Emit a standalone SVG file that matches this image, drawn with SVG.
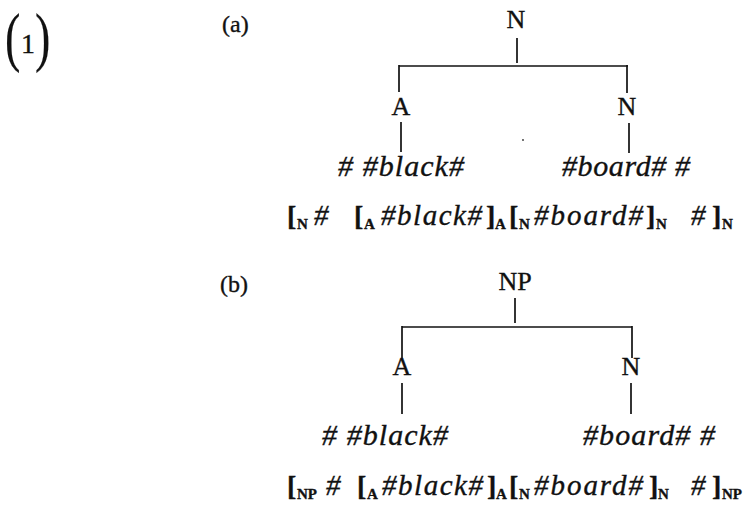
<svg xmlns="http://www.w3.org/2000/svg" width="753" height="506" viewBox="0 0 753 506">
<style>
text{font-family:"Liberation Serif","Times New Roman",serif;fill:#111;stroke:#111;stroke-width:0.35}
.lab{font-size:26px;text-anchor:middle}
.leaf{font-size:30px;font-style:italic}
.br{font-size:28px;font-weight:bold}
.sub{font-size:15px;font-weight:bold}
.it{font-size:29px;font-style:italic}
.tag{font-size:24px}
.conn line{stroke:#111;stroke-width:1.7}
</style>
<rect width="753" height="506" fill="#fff"/>
<g id="example-number">
<text transform="translate(5,59) scale(0.7,1)" style="font-size:66px;stroke-width:0.2">(</text>
<text x="21" y="53" style="font-size:28px">1</text>
<text transform="translate(35,59) scale(0.7,1)" style="font-size:66px;stroke-width:0.2">)</text>
</g>
<text class="tag" x="222" y="32">(a)</text>
<text class="tag" x="220" y="292">(b)</text>
<g class="conn" id="connectors">
<line x1="517" y1="38" x2="517" y2="63"/>
<line x1="399" y1="66" x2="628" y2="66"/>
<line x1="399" y1="65" x2="399" y2="92"/>
<line x1="627" y1="65" x2="627" y2="93"/>
<line x1="401" y1="122" x2="401" y2="152"/>
<line x1="629" y1="123" x2="629" y2="153"/>
<line x1="515" y1="298" x2="515" y2="323"/>
<line x1="402" y1="327" x2="632" y2="327"/>
<line x1="402" y1="326" x2="402" y2="358"/>
<line x1="632" y1="326" x2="632" y2="358"/>
<line x1="402" y1="383" x2="402" y2="414"/>
<line x1="631" y1="383" x2="631" y2="414"/>
</g>
<circle cx="523" cy="140" r="0.9" fill="#333"/>
<g id="a-root"><text class="lab" x="516" y="28">N</text></g>
<g id="a-A"><text class="lab" x="401" y="115">A</text></g>
<g id="a-N"><text class="lab" x="627" y="115">N</text></g>
<g id="a-leaf-black"><text class="leaf" x="338" y="176" textLength="126" lengthAdjust="spacing"># #black#</text></g>
<g id="a-leaf-board"><text class="leaf" x="562" y="176" textLength="128" lengthAdjust="spacing">#board# #</text></g>
<g id="a-bracketing">
<text class="br" x="287" y="225">[</text><text class="sub" x="297" y="229">N</text>
<text class="it" x="314" y="225">#</text>
<text class="br" x="354" y="225">[</text><text class="sub" x="364" y="229">A</text>
<text class="it" x="381" y="225" textLength="101" lengthAdjust="spacing">#black#</text>
<text class="br" x="486" y="225">]</text><text class="sub" x="495" y="229">A</text>
<text class="br" x="509" y="225">[</text><text class="sub" x="519" y="229">N</text>
<text class="it" x="534" y="225" textLength="109" lengthAdjust="spacing">#board#</text>
<text class="br" x="646" y="225">]</text><text class="sub" x="656" y="229">N</text>
<text class="it" x="691" y="225">#</text>
<text class="br" x="712" y="225">]</text><text class="sub" x="722" y="229">N</text>
</g>
<g id="b-root"><text class="lab" x="515" y="290">NP</text></g>
<g id="b-A"><text class="lab" x="402" y="375">A</text></g>
<g id="b-N"><text class="lab" x="631" y="375">N</text></g>
<g id="b-leaf-black"><text class="leaf" x="322" y="445" textLength="126" lengthAdjust="spacing"># #black#</text></g>
<g id="b-leaf-board"><text class="leaf" x="583" y="445" textLength="132" lengthAdjust="spacing">#board# #</text></g>
<g id="b-bracketing">
<text class="br" x="287" y="495">[</text><text class="sub" x="297" y="499">NP</text>
<text class="it" x="326" y="495">#</text>
<text class="br" x="357" y="495">[</text><text class="sub" x="367" y="499">A</text>
<text class="it" x="382" y="495" textLength="101" lengthAdjust="spacing">#black#</text>
<text class="br" x="487" y="495">]</text><text class="sub" x="496" y="499">A</text>
<text class="br" x="509" y="495">[</text><text class="sub" x="519" y="499">N</text>
<text class="it" x="534" y="495" textLength="109" lengthAdjust="spacing">#board#</text>
<text class="br" x="649" y="495">]</text><text class="sub" x="658" y="499">N</text>
<text class="it" x="691" y="495">#</text>
<text class="br" x="712" y="495">]</text><text class="sub" x="722" y="499">NP</text>
</g>
</svg>
